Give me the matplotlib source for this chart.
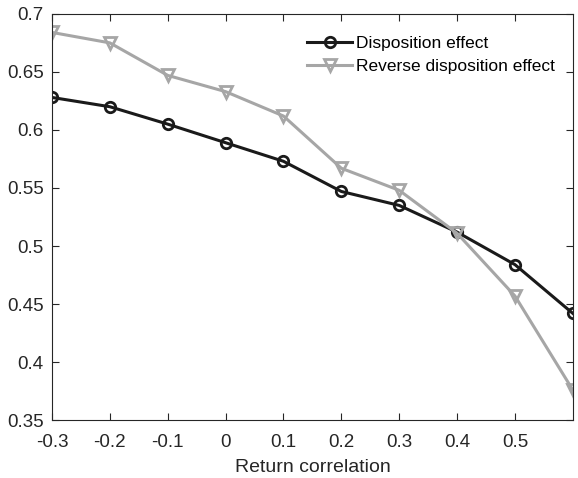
import matplotlib
matplotlib.use("Agg")
import matplotlib.pyplot as plt

corr = [-0.3, -0.2, -0.1, 0.0, 0.1, 0.2, 0.3, 0.4, 0.5, 0.6]
disposition = [0.628, 0.620, 0.605, 0.589, 0.573, 0.547, 0.535, 0.512, 0.484, 0.442]
reverse = [0.684, 0.675, 0.647, 0.633, 0.612, 0.567, 0.548, 0.511, 0.457, 0.376]
xticks = [-0.3, -0.2, -0.1, 0, 0.1, 0.2, 0.3, 0.4, 0.5]
xticklabels = ["-0.3", "-0.2", "-0.1", "0", "0.1", "0.2", "0.3", "0.4", "0.5"]
yticks = [0.35, 0.4, 0.45, 0.5, 0.55, 0.6, 0.65, 0.7]
yticklabels = ["0.35", "0.4", "0.45", "0.5", "0.55", "0.6", "0.65", "0.7"]

plt.rcParams['font.family'] = ['Liberation Sans', 'DejaVu Sans']

fig = plt.figure(figsize=(5.78, 4.78), dpi=100)
ax = fig.add_axes([0.090, 0.121, 0.901, 0.850])

ax.plot(corr, disposition, color='#1a1a1a', lw=2.2, marker='o', ms=7.5,
        mfc='none', mew=2.0, label='Disposition effect')
ax.plot(corr, reverse, color='#a6a6a6', lw=2.2, marker='v', ms=9,
        mfc='none', mew=2.0, label='Reverse disposition effect')

ax.set_xlim(-0.3, 0.6)
ax.set_ylim(0.35, 0.7)
ax.set_xticks(xticks)
ax.set_xticklabels(xticklabels)
ax.set_yticks(yticks)
ax.set_yticklabels(yticklabels)
ax.tick_params(direction='in', top=True, right=True, length=5, width=0.8,
               labelsize=13.5, colors='#262626')
ax.tick_params(axis='x', pad=10)
ax.tick_params(axis='y', pad=6)
for s in ax.spines.values():
    s.set_color('#262626')
    s.set_linewidth(0.8)
ax.set_xlabel('Return correlation', fontsize=14, color='#262626', labelpad=6)

ax.legend(loc='upper right', bbox_to_anchor=(0.995, 0.985), frameon=False,
          fontsize=12.5, handlelength=2.6, handletextpad=0.2, labelspacing=0.45)

fig.savefig('out.png', dpi=100)
